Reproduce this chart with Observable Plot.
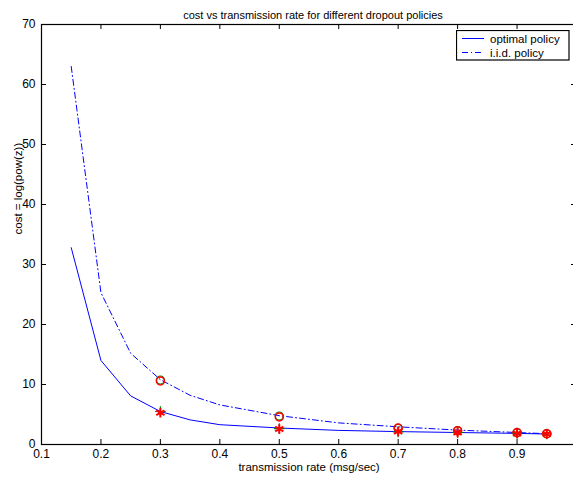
<!DOCTYPE html>
<html><head><meta charset="utf-8">
<script src="https://cdn.jsdelivr.net/npm/d3@7"></script>
<script src="https://cdn.jsdelivr.net/npm/@observablehq/plot@0.6"></script>
<style>
html,body{margin:0;padding:0;overflow:hidden;background:#fff;width:573px;height:480px;}
#chart{position:relative;width:600px;height:480px;}
#legend{position:absolute;left:456px;top:30px;}
</style></head><body><div id="chart"></div>
<script>
// ---- data ----
const rate        = [0.15, 0.2, 0.25, 0.3, 0.35, 0.4, 0.5, 0.6, 0.7, 0.8, 0.9, 0.95];
const optimalCost = [32.8, 14.0, 8.1, 5.5, 4.1, 3.3, 2.75, 2.35, 2.15, 2.0, 1.85, 1.75];
const iidCost     = [63.0, 25.3, 15.2, 10.8, 8.2, 6.6, 4.8, 3.6, 2.95, 2.4, 2.0, 1.8];
const markerRate  = [0.3, 0.5, 0.7, 0.8, 0.9, 0.95];
const iidSimRed     = [10.6, 4.6, 2.75, 2.3, 2.0, 1.8];
const iidSimGreen   = [10.75, 4.75, 2.7, 2.3, 1.95, 1.8];
const optSimRed     = [5.3, 2.6, 2.15, 2.0, 1.85, 1.75];
const optSimGreen   = [5.5, 2.65, 2.1, 2.0, 1.9, 1.75];
const xTicks = [0.1, 0.2, 0.3, 0.4, 0.5, 0.6, 0.7, 0.8, 0.9, 1];
const yTicks = [0, 10, 20, 30, 40, 50, 60, 70];
const seriesNames = ["optimal policy", "i.i.d. policy"];
const titleText = "cost vs transmission rate for different dropout policies";
const xLabelText = "transmission rate (msg/sec)";
const yLabelText = "cost = log(pow(z))";

const font = "'Liberation Sans', Arial, Helvetica, sans-serif";
const W = 600, H = 480, mL = 41, mR = 24, mT = 24, mB = 36;
const pw = W - mL - mR, ph = H - mT - mB, tk = 5;
const blue = "#0000ff", red = "#ff0000", green = "#008000";
const dashDot = "6,3,1,3";

const plot = Plot.plot({
  width: W, height: H, marginLeft: mL, marginRight: mR, marginTop: mT, marginBottom: mB,
  style: {fontFamily: font, fontSize: "12px", color: "#000", background: "#fff"},
  x: {type: "linear", domain: [0.1, 1]},
  y: {type: "linear", domain: [0, 70]},
  marks: [
    // tick labels
    Plot.axisX(xTicks, {anchor: "bottom", tickSize: 0, tickPadding: 5, tickFormat: d => String(d), label: null, fontSize: 12}),
    Plot.axisY(yTicks, {anchor: "left", tickSize: 0, tickPadding: 6, tickFormat: d => String(d), label: null, fontSize: 12}),
    // inward ticks on all four sides
    Plot.tickX(xTicks, {x: d => d, insetTop: ph - tk, stroke: "#000"}),
    Plot.tickX(xTicks, {x: d => d, insetBottom: ph - tk, stroke: "#000"}),
    Plot.tickY(yTicks, {y: d => d, insetRight: pw - tk, stroke: "#000"}),
    Plot.tickY(yTicks, {y: d => d, insetLeft: pw - tk, stroke: "#000"}),
    // series
    Plot.line(rate, {x: rate, y: optimalCost, stroke: blue, strokeWidth: 1}),
    Plot.line(rate, {x: rate, y: iidCost, stroke: blue, strokeWidth: 1, strokeDasharray: dashDot}),
    // simulated markers
    Plot.dot(markerRate, {x: markerRate, y: iidSimGreen, r: 4, stroke: green, fill: "none", strokeWidth: 1.2}),
    Plot.dot(markerRate, {x: markerRate, y: optSimGreen, symbol: "plus", r: 3.5, stroke: green, strokeWidth: 1.2}),
    Plot.dot(markerRate, {x: markerRate, y: iidSimRed, r: 4, stroke: red, fill: "none", strokeWidth: 1.5}),
    Plot.dot(markerRate, {x: markerRate, y: optSimRed, symbol: "asterisk", r: 4.5, stroke: red, strokeWidth: 2}),
    // frame
    Plot.frame({stroke: "#000", strokeWidth: 1.2}),
    // title & axis labels
    Plot.text([titleText], {frameAnchor: "top", dy: -13, dx: 4, fontSize: 11, fill: "#000"}),
    Plot.text([xLabelText], {frameAnchor: "bottom", dy: 26, fontSize: 11.5, fill: "#000"}),
    Plot.text([yLabelText], {frameAnchor: "left", dx: -23, rotate: -90, fontSize: 11.5, fill: "#000"})
  ]
});
document.getElementById("chart").appendChild(plot);

// legend box (MATLAB style)
const leg = d3.select("#chart").append("svg").attr("id", "legend")
  .attr("width", 114).attr("height", 31)
  .style("font-family", font).style("font-size", "11.5px");
leg.append("rect").attr("x", 0.5).attr("y", 0.5).attr("width", 112.5).attr("height", 29.5)
  .attr("fill", "#fff").attr("stroke", "#000").attr("stroke-width", 1.2);
seriesNames.forEach((name, i) => {
  const cy = 8.5 + i * 14;
  leg.append("line").attr("x1", 6).attr("x2", 28).attr("y1", cy).attr("y2", cy)
    .attr("stroke", blue).attr("stroke-width", 1)
    .attr("stroke-dasharray", i === 1 ? dashDot : null);
  leg.append("text").attr("x", 34).attr("y", cy).attr("dy", "0.35em").text(name);
});
</script>
</body></html>
